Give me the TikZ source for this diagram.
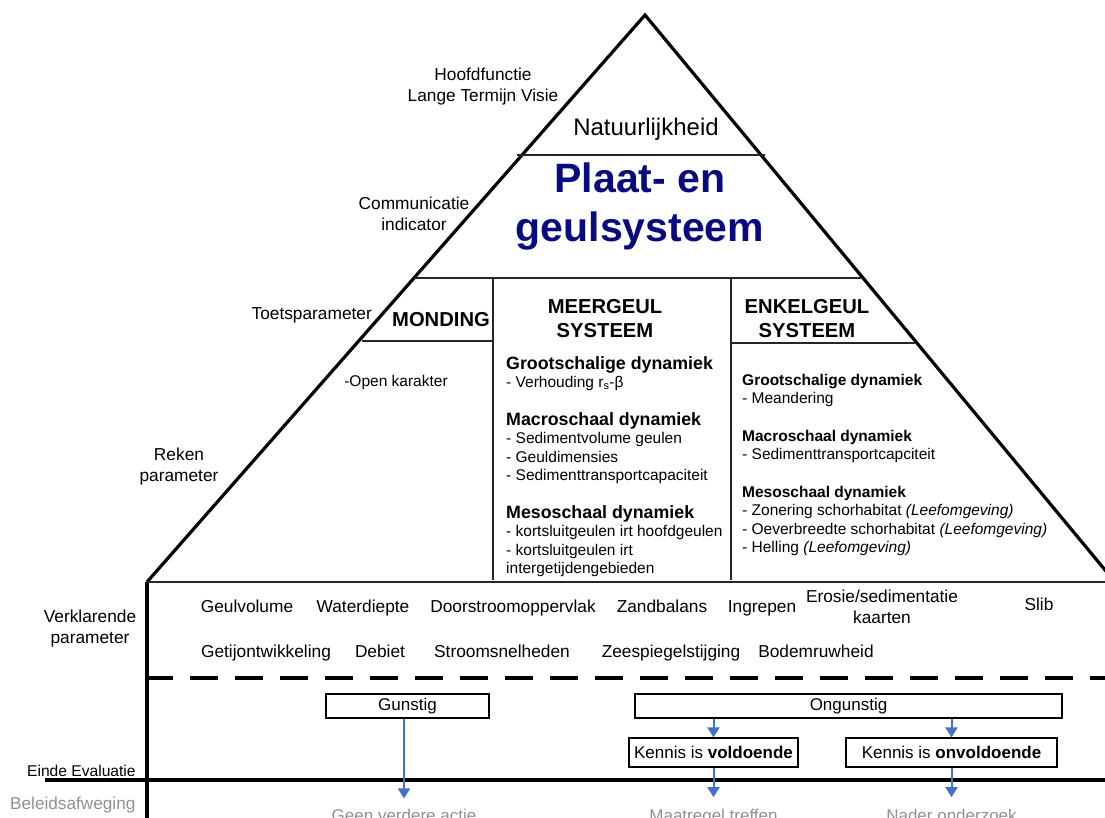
\documentclass[tikz,border=0pt]{standalone}
\usepackage{fontspec}
\setmainfont{Liberation Sans}
\usetikzlibrary{positioning, arrows.meta}
\definecolor{titelblauw}{RGB}{10,10,128}
\definecolor{pijlblauw}{RGB}{68,114,196}
\definecolor{grijs}{RGB}{145,145,145}
\newcommand{\kop}[1]{{\fontsize{17.8}{18.5}\selectfont\bfseries #1}}
\tikzset{
  lbl/.style={font=\fontsize{17.3}{21}\selectfont, inner sep=0pt, align=center},
  kopje/.style={font=\fontsize{20.2}{24}\selectfont\bfseries, inner sep=0pt, align=center},
  kolom/.style={font=\fontsize{15.5}{18.5}\selectfont, inner sep=0pt, align=left, anchor=north west},
  verkl/.style={font=\fontsize{17.3}{21}\selectfont, inner sep=0pt, anchor=base, align=center},
  vak/.style={draw, line width=1.2pt, inner sep=0pt, font=\fontsize{17}{20}\selectfont},
  grijstekst/.style={font=\fontsize{17}{20}\selectfont, inner sep=0pt, text=grijs},
  pijl/.style={pijlblauw, line width=2pt, -{Triangle[width=12pt,length=10pt]}},
  dik/.style={line width=3.2pt},
  dun/.style={line width=1.2pt, black!85}
}
\begin{document}
\begin{tikzpicture}[x=1pt, y=-1pt]
\useasboundingbox (0,0) rectangle (1105,818);
% piramide en vakken
\draw[dik] (147,582) -- (645,15) -- (1115,582);
\draw[dik] (147,582) -- (147,830);
\draw[dun] (517,155) -- (765,155);
\draw[dun] (414,278) -- (863,278);
\draw[dun] (493,278) -- (493,580);
\draw[dun] (731,278) -- (731,580);
\draw[dun] (362,341) -- (493,341);
\draw[dun] (731,343) -- (916,343);
\draw[dun] (147,582) -- (1105,582);
\draw[dik, dash pattern=on 28pt off 17pt, dash phase=2pt] (147,678) -- (1105,678);
\draw[dik] (45,780) -- (1105,780);

% niveaus links
\node[lbl, anchor=north] (hoofd) at (483,67.4) {Hoofdfunctie\\Lange Termijn Visie};
\node[lbl, anchor=north] (comm) at (414,196.4) {Communicatie\\indicator};
\node[lbl, anchor=base east] (toets) at (372,319) {Toetsparameter};
\node[lbl, anchor=north] (reken) at (179,447.4) {Reken\\parameter};
\node[lbl, anchor=north] (verklaar) at (90,609.4) {Verklarende\\parameter};
\node[lbl, anchor=base west, font=\fontsize{15.6}{18}\selectfont] (einde) at (27,776) {Einde Evaluatie};
\node[lbl, anchor=base west, font=\fontsize{17.2}{20}\selectfont, text=grijs] (beleid) at (10,809) {Beleidsafweging};

% top van de piramide
\node[anchor=base, font=\fontsize{24}{28}\selectfont, inner sep=0pt] (natuur) at (646,136) {Natuurlijkheid};
\node[anchor=north, align=center, font=\fontsize{41}{49}\selectfont\bfseries, text=titelblauw, inner sep=0pt] (titel) at (640,163) {Plaat- en\\geulsysteem};

% toetsparameters
\node[kopje, anchor=base] (monding) at (441,326) {MONDING};
\node[kopje, anchor=north] (meer) at (605,299) {MEERGEUL\\SYSTEEM};
\node[kopje, anchor=north] (enkel) at (807,299) {ENKELGEUL\\SYSTEEM};

% rekenparameters
\node[anchor=base, font=\fontsize{15.5}{18.5}\selectfont, inner sep=0pt] (open) at (396,386) {-Open karakter};
\node[kolom] (meerkol) at (506,356) {\kop{Grootschalige dynamiek}\\
- Verhouding r\textsubscript{s}-β\\[19pt]
\kop{Macroschaal dynamiek}\\
- Sedimentvolume geulen\\
- Geuldimensies\\
- Sedimenttransportcapaciteit\\[19pt]
\kop{Mesoschaal dynamiek}\\
- kortsluitgeulen irt hoofdgeulen\\
- kortsluitgeulen irt\\
intergetijdengebieden};
\node[kolom] (enkelkol) at (742,373.7) {\textbf{Grootschalige dynamiek}\\
- Meandering\\[19pt]
\textbf{Macroschaal dynamiek}\\
- Sedimenttransportcapciteit\\[19pt]
\textbf{Mesoschaal dynamiek}\\
- Zonering schorhabitat \textit{(Leefomgeving)}\\
- Oeverbreedte schorhabitat \textit{(Leefomgeving)}\\
- Helling \textit{(Leefomgeving)}};

% verklarende parameters
\node[verkl] (geulvol) at (247,612) {Geulvolume};
\node[verkl] (waterd) at (363,612) {Waterdiepte};
\node[verkl] (doorstr) at (513,612) {Doorstroomoppervlak};
\node[verkl] (zandb) at (662,612) {Zandbalans};
\node[verkl] (ingrepen) at (762,612) {Ingrepen};
\node[verkl, anchor=north] (erosie) at (882,589.4) {Erosie/sedimentatie\\kaarten};
\node[verkl] (slib) at (1039,610) {Slib};
\node[verkl] (getij) at (266,657) {Getijontwikkeling};
\node[verkl] (debiet) at (380,657) {Debiet};
\node[verkl] (stroom) at (502,657) {Stroomsnelheden};
\node[verkl] (zeesp) at (671,657) {Zeespiegelstijging};
\node[verkl] (bodem) at (816,657) {Bodemruwheid};

% evaluatie
\node[vak, minimum width=163pt, minimum height=24pt] (gunstig) at (407.5,706) {Gunstig};
\node[vak, minimum width=427pt, minimum height=24pt] (ongunstig) at (848.5,706) {Ongunstig};
\node[vak, minimum width=169pt, minimum height=29pt] (voldoende) at (713.5,752.5) {Kennis is \textbf{voldoende}};
\node[vak, minimum width=211pt, minimum height=29pt] (onvoldoende) at (951.5,752.5) {Kennis is \textbf{onvoldoende}};

% beleidsafweging
\node[grijstekst, anchor=base] (geen) at (404,821) {Geen verdere actie};
\node[grijstekst, below=41.6pt of voldoende] (maatregel) {Maatregel treffen};
\node[grijstekst, below=41.6pt of onvoldoende] (nader) {Nader onderzoek};

\draw[pijl, shorten >=10pt] (gunstig.south -| geen.north) -- (geen.north);
\draw[pijl] (ongunstig.south -| voldoende.north) -- (voldoende.north);
\draw[pijl] (ongunstig.south -| onvoldoende.north) -- (onvoldoende.north);
\draw[pijl, shorten >=12pt] (voldoende) -- (maatregel);
\draw[pijl, shorten >=12pt] (onvoldoende) -- (nader);
\end{tikzpicture}
\end{document}
